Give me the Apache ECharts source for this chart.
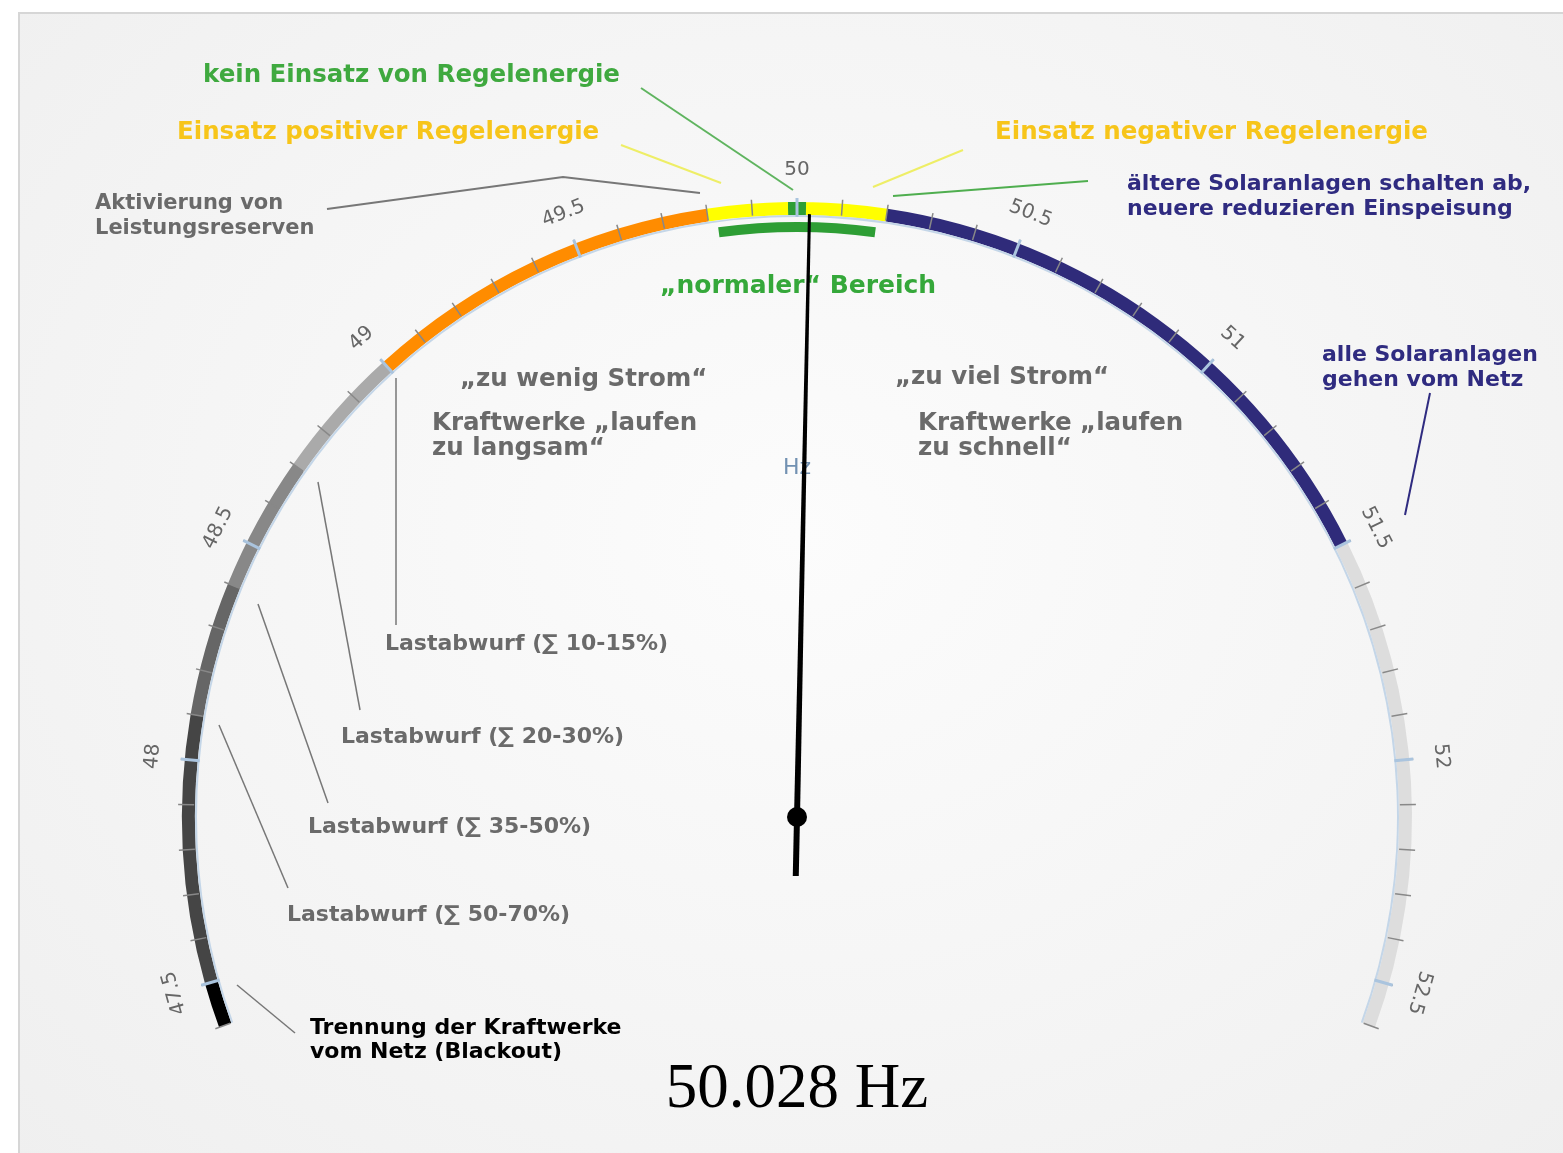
<!DOCTYPE html>
<html><head><meta charset="utf-8">
<script src="https://cdn.jsdelivr.net/npm/echarts@6/dist/echarts.min.js"></script>
<style>
html,body{margin:0;padding:0;width:1563px;height:1153px;overflow:hidden;background:#fff;}
#panel{position:absolute;left:18px;top:12px;width:1560px;height:1160px;box-sizing:border-box;border:2px solid #d6d6d6;background:radial-gradient(ellipse at 50% 45%, #fcfcfc 0%, #f5f5f5 55%, #efefef 100%);}
#chart{position:absolute;left:0;top:0;width:1563px;height:1153px;}
</style></head><body>
<div id="panel"></div><div id="chart"></div>
<script>
// ---- data ----
const axisMin = 47.4, axisMax = 52.6;          // full arc
const labelMin = 47.5, labelMax = 52.5;        // labelled scale
const labelStep = 0.5, minorStep = 0.1;
const currentFrequency = [50.028];
const unitName = ['Hz'];
const bandEnds   = [47.5, 48.1, 48.4, 48.7, 49.0, 49.8, 49.98, 50.02, 50.2, 51.5, 52.6];
const bandColors = ['#000000', '#454545', '#666666', '#888888', '#aaaaaa', '#ff8c00', '#ffff00', '#2e9e35', '#ffff00', '#2f2b7a', '#dddddd'];
const normalRange = [49.82, 50.18];

// ---- geometry ----
const CX = 797, CY = 817;
const START = 200, END = -20;
const span = axisMax - axisMin;
const degPerHz = (START - END) / span;
const frac = v => (v - axisMin) / span;
const lblStart = START - (labelMin - axisMin) * degPerHz;
const lblEnd = END + (axisMax - labelMax) * degPerHz;

const hidden = {
  splitLine: { show: false }, axisTick: { show: false }, axisLabel: { show: false },
  pointer: { show: false }, anchor: { show: false }, title: { show: false }, detail: { show: false }
};

const series = [
  Object.assign({
    type: 'gauge', center: [CX, CY], radius: 615, startAngle: START, endAngle: END,
    min: axisMin, max: axisMax, silent: true, z: 2,
    axisLine: { lineStyle: { width: 13, color: bandEnds.map((v, i) => [frac(v), bandColors[i]]) } },
    data: [{ value: currentFrequency[0] }]
  }, hidden),
  Object.assign({
    type: 'gauge', center: [CX, CY], radius: 595, startAngle: START, endAngle: END,
    min: axisMin, max: axisMax, silent: true, z: 2,
    axisLine: { lineStyle: { width: 10, color: [[frac(normalRange[0]), 'rgba(0,0,0,0)'], [frac(normalRange[1]), '#2e9e35'], [1, 'rgba(0,0,0,0)']] } },
    data: [{ value: currentFrequency[0] }]
  }, hidden),
  Object.assign({}, hidden, {
    type: 'gauge', center: [CX, CY], radius: 602, startAngle: START, endAngle: END,
    min: axisMin, max: axisMax, silent: true, z: 3,
    splitNumber: Math.round(span / minorStep),
    axisLine: { show: true, lineStyle: { width: 2, color: [[1, '#c4d6e8']] } },
    splitLine: { show: true, length: 16, distance: -19, lineStyle: { color: '#888888', width: 1.5 } },
    data: [{ value: currentFrequency[0] }]
  }),
  {
    type: 'gauge', center: [CX, CY], radius: 601, startAngle: lblStart, endAngle: lblEnd,
    min: labelMin, max: labelMax, splitNumber: Math.round((labelMax - labelMin) / labelStep), z: 4,
    axisLine: { show: false, lineStyle: { width: 0 } },
    splitLine: { show: true, length: 19, distance: -18, lineStyle: { color: '#aac4de', width: 3 } },
    axisTick: { show: false },
    axisLabel: { show: true, distance: -47, rotate: 'tangential', color: '#666', fontSize: 20, fontFamily: 'DejaVu Sans' },
    pointer: { show: true, icon: 'path://M1.5,0 L4.5,0 L6,603 L6,662 L0,662 L0,603 Z', length: 662, width: 6, offsetCenter: [0, 59], itemStyle: { color: '#000' } },
    anchor: { show: true, showAbove: true, size: 20, itemStyle: { color: '#000' } },
    title: { show: true, offsetCenter: [0, -349], color: '#7291b2', fontSize: 22, fontFamily: 'DejaVu Sans' },
    detail: { show: true, offsetCenter: [0, 273], formatter: v => v.toFixed(3) + ' ' + unitName[0], color: '#000', fontSize: 63, fontFamily: 'Liberation Serif', fontWeight: 'normal' },
    data: [{ value: currentFrequency[0], name: unitName[0] }]
  }
];

// ---- annotations ----
const FONT = 'DejaVu Sans';
function txt(text, x, yFirst, color, size, lh) {
  lh = lh || size;
  return { type: 'text', z: 1, silent: true, style: { text: text, x: x, y: yFirst - lh / 2, fill: color, fontSize: size, fontWeight: 'bold', fontFamily: FONT, lineHeight: lh, verticalAlign: 'top', align: 'left' } };
}
function line(pts, color, w) {
  return { type: 'polyline', z: 1, silent: true, shape: { points: pts }, style: { stroke: color, lineWidth: w || 2, fill: null } };
}
const GREEN = '#3fa93f', GOLD = '#f7c51a', GRAY = '#6a6a6a', NAVY = '#2f2b80';
const graphics = [
  txt('kein Einsatz von Regelenergie', 203, 76, GREEN, 24.5),
  line([[641, 88], [793, 190]], '#5fb45f', 2),
  txt('Einsatz positiver Regelenergie', 177, 133, GOLD, 24.5),
  line([[621, 145], [721, 183]], '#eeee66', 2),
  txt('Einsatz negativer Regelenergie', 995, 133, GOLD, 24.5),
  line([[963, 150], [873, 187]], '#eeee66', 2),
  txt('Aktivierung von\nLeistungsreserven', 95, 204, GRAY, 21, 25),
  line([[327, 209], [563, 177], [700, 193]], '#777', 2),
  txt('ältere Solaranlagen schalten ab,\nneuere reduzieren Einspeisung', 1127, 184, NAVY, 22, 25),
  line([[893, 196], [1088, 181]], '#4fae4f', 2),
  txt('„normaler“ Bereich', 660, 286, '#35a83a', 25),
  txt('„zu wenig Strom“', 460, 380, GRAY, 24.5),
  txt('Kraftwerke „laufen\nzu langsam“', 432, 424, GRAY, 24.5, 25),
  txt('„zu viel Strom“', 895, 378, GRAY, 24.5),
  txt('Kraftwerke „laufen\nzu schnell“', 918, 424, GRAY, 24.5, 25),
  txt('alle Solaranlagen\ngehen vom Netz', 1322, 355, NAVY, 22, 25),
  line([[1430, 393], [1405, 515]], NAVY, 2),
  txt('Lastabwurf (∑ 10-15%)', 385, 644, GRAY, 22),
  line([[396, 625], [396, 378]], '#777', 1.5),
  txt('Lastabwurf (∑ 20-30%)', 341, 737, GRAY, 22),
  line([[360, 710], [318, 482]], '#777', 1.5),
  txt('Lastabwurf (∑ 35-50%)', 308, 827, GRAY, 22),
  line([[328, 803], [258, 604]], '#777', 1.5),
  txt('Lastabwurf (∑ 50-70%)', 287, 915, GRAY, 22),
  line([[288, 888], [219, 725]], '#777', 1.5),
  txt('Trennung der Kraftwerke\nvom Netz (Blackout)', 310, 1028, '#000', 22, 24),
  line([[295, 1033], [237, 985]], '#777', 1.5)
];

const chart = echarts.init(document.getElementById('chart'), null, { renderer: 'canvas' });
chart.setOption({ animation: false, backgroundColor: 'transparent', series: series, graphic: graphics });
</script>
</body></html>
